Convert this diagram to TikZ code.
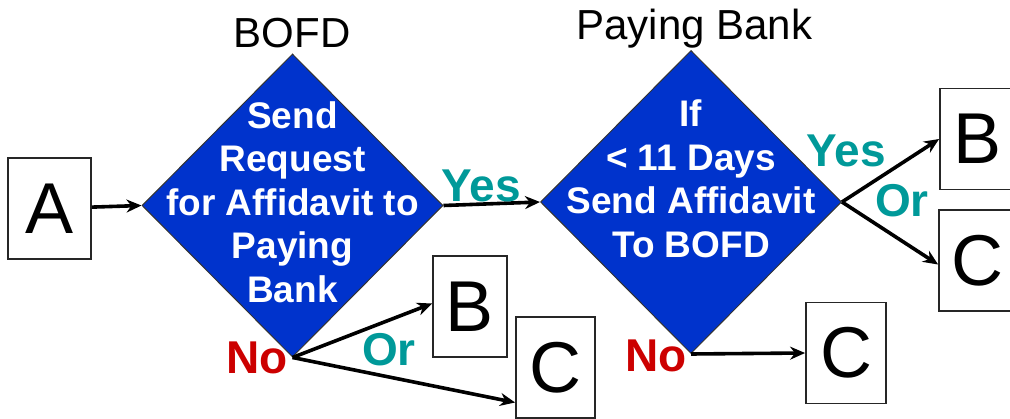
\documentclass[tikz,border=0pt]{standalone}
\usepackage{fontspec}
\setmainfont{Liberation Sans}
\usepackage{xcolor}
\usepackage{tikz}
\usetikzlibrary{shapes.geometric}
\usetikzlibrary{arrows.meta}

\definecolor{dblue}{RGB}{0,51,204}
\definecolor{yesteal}{RGB}{0,153,153}
\definecolor{nored}{RGB}{204,0,0}

\begin{document}
\begin{tikzpicture}[x=1pt,y=-1pt,>={Stealth[length=15pt,width=13pt]},
    box/.style={draw=black!85,line width=1.8pt,inner sep=0pt,minimum height=101pt,font=\fontsize{72}{72}\selectfont},
    decision/.style={diamond,draw=black!80,line width=1pt,fill=dblue,inner sep=0pt,minimum width=301pt,minimum height=303pt},
    dtext/.style={align=center,text=white,inner sep=0pt,font=\bfseries\fontsize{37}{43.5}\selectfont},
    answer/.style={anchor=base,inner sep=0pt,font=\bfseries\fontsize{46}{46}\selectfont},
    conn/.style={->,line width=3.6pt}]
  \useasboundingbox (0,0) rectangle (1010,419);

  % the two decisions
  \node[decision] (d1) at (292.5,205.5) {};
  \node[decision] (d2) at (691,202) {};
  \node[dtext] (t1) at (292.5,202) {Send\\Request\\for Affidavit to\\Paying\\Bank};
  \node[dtext] (t2) at (691,179) {If\\< 11 Days\\Send Affidavit\\To BOFD};

  \node[anchor=base,font=\fontsize{42}{42}\selectfont] (bofd) at (292,48) {BOFD};
  \node[anchor=base,font=\fontsize{42}{42}\selectfont] (pb) at (694.5,40) {Paying Bank};

  % boxes
  \node[box,minimum width=83pt] (a) at (49.5,208.5) {A};
  \node[box,minimum width=74pt] (b1) at (470,306.5) {B};
  \node[box,minimum width=79pt] (c1) at (555.5,367.5) {C};
  \node[box,minimum width=80pt] (c2) at (846,353) {C};
  \node[box,minimum width=76pt] (b2) at (978,139) {B};
  \node[box,minimum width=76pt] (c3) at (977,260.5) {C};

  \draw[conn] (a) -- (d1.west);
  \draw[conn] (d1.east) -- (d2.west);
  \draw[conn] (d1.south) -- ([yshift=3pt]b1.west);
  \draw[conn] (d1.south) -- ([yshift=-35pt]c1.west);
  \draw[conn] (d2.south) -- (c2.west);
  \draw[conn] (d2.east) -- (b2.west);
  \draw[conn] (d2.east) -- ([yshift=-4pt]c3.west);

  % answers
  \node[answer,text=yesteal] (y1) at (481,202) {Yes};
  \node[answer,text=yesteal] (y2) at (846,167) {Yes};
  \node[answer,text=yesteal] (or1) at (902,217) {Or};
  \node[answer,text=yesteal] (or2) at (389,366) {Or};
  \node[answer,text=nored] (n1) at (257,374) {No};
  \node[answer,text=nored] (n2) at (656,372) {No};
\end{tikzpicture}
\end{document}
